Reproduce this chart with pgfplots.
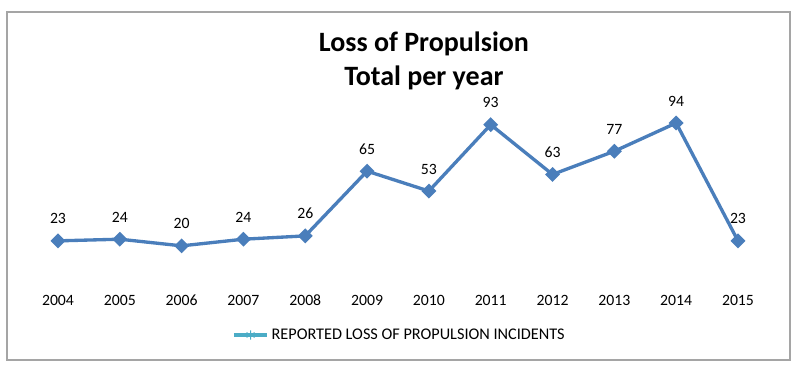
\documentclass[border=0pt]{standalone}
\usepackage{fontspec}
\setmainfont{Carlito}
\usepackage{pgfplots}
\pgfplotsset{compat=1.18}
\definecolor{mainblue}{RGB}{74,126,187}
\definecolor{legblue}{RGB}{75,172,198}
\definecolor{framegray}{RGB}{165,165,165}
\begin{document}
\begin{tikzpicture}
\begin{axis}[
  scale only axis,
  width=510pt, height=124.5pt,
  xmin=0, xmax=11, ymin=0, ymax=100,
  clip=false,
  axis line style={draw=none},
  ytick=\empty,
  xtick={0,...,11},
  xticklabels={2004,2005,2006,2007,2008,2009,2010,2011,2012,2013,2014,2015},
  major tick length=0pt,
  xticklabel style={font=\fontsize{11.8}{13}\selectfont, yshift=-8.5pt},
  /pgf/number format/assume math mode=true,
  legend style={at={(axis cs:5.53,-33.7)}, anchor=center, draw=none, font=\fontsize{12.2}{14}\selectfont, inner sep=1pt},
  legend image code/.code={\draw[color=legblue, line width=2.5pt] (0pt,0pt) -- (25pt,0pt);
     \draw[color=legblue, line width=0.8pt] plot[mark=asterisk, mark size=3.5pt] coordinates {(12.5pt,0pt)};},
]
\path (axis cs:-0.938,-58.4) rectangle (axis cs:11.971,168.1);
\draw[framegray, line width=1.2pt] (axis cs:-0.825,-48.8) rectangle (axis cs:11.841,160.8);
\node[font=\bfseries\fontsize{21}{25.5}\selectfont, align=center] at (axis cs:5.92,131.5) {Loss of Propulsion\\Total per year};
\addplot[color=mainblue, line width=2.5pt, mark=square*, mark options={rotate=45, solid}, mark size=2.7pt,
  nodes near coords, every node near coord/.style={font=\fontsize{11.8}{13}\selectfont, color=black, yshift=8pt},
  forget plot]
coordinates {(0,23) (1,24) (2,20) (3,24) (4,26) (5,65) (6,53) (7,93) (8,63) (9,77) (10,94) (11,23)};
\addlegendimage{legblue}
\addlegendentry{REPORTED LOSS OF PROPULSION INCIDENTS}
\end{axis}
\end{tikzpicture}
\end{document}
